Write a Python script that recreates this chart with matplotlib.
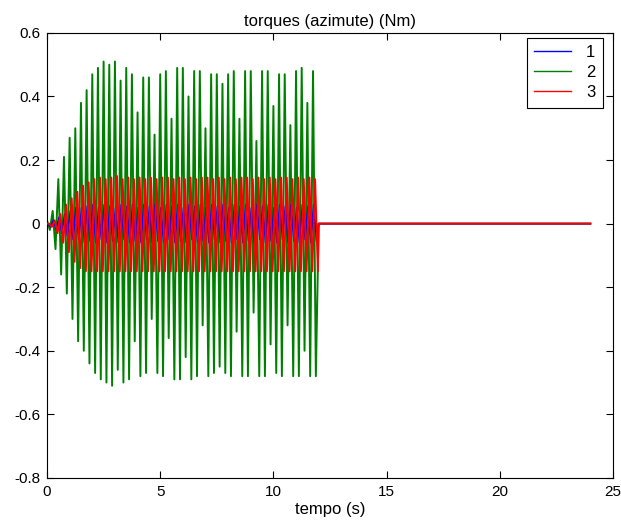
import numpy as np
import matplotlib
matplotlib.use("Agg")
import matplotlib.pyplot as plt

plt.rcParams['font.family'] = ['Liberation Sans', 'DejaVu Sans']
plt.rcParams['axes.unicode_minus'] = False

## Peak values, one cycle every 0.25 s from t = 0 to 12 s
period = 0.25
green_hi = [0.01, 0.04, 0.14, 0.21, 0.27, 0.30, 0.38, 0.42, 0.47, 0.49,
            0.51, 0.50, 0.51, 0.45, 0.49, 0.47, 0.35, 0.46, 0.46, 0.28,
            0.47, 0.48, 0.33, 0.49, 0.49, 0.40, 0.48, 0.48, 0.30, 0.47,
            0.47, 0.44, 0.47, 0.48, 0.33, 0.48, 0.48, 0.26, 0.48, 0.48,
            0.37, 0.47, 0.47, 0.31, 0.48, 0.49, 0.38, 0.48]
green_lo = [-0.02, -0.08, -0.16, -0.22, -0.30, -0.37, -0.40, -0.44, -0.47, -0.49,
            -0.50, -0.51, -0.46, -0.50, -0.49, -0.37, -0.48, -0.47, -0.30, -0.47,
            -0.48, -0.36, -0.49, -0.49, -0.42, -0.49, -0.48, -0.32, -0.48, -0.47,
            -0.45, -0.47, -0.48, -0.34, -0.48, -0.48, -0.28, -0.48, -0.48, -0.38,
            -0.47, -0.48, -0.32, -0.48, -0.48, -0.40, -0.48, -0.48]
red_hi = [0.00, 0.01, 0.03, 0.06, 0.08, 0.10, 0.12, 0.13, 0.14, 0.145,
          0.14, 0.145, 0.15, 0.14, 0.145, 0.14, 0.145, 0.14, 0.145, 0.14,
          0.145, 0.145, 0.14, 0.145, 0.14, 0.145, 0.14, 0.145, 0.145, 0.14,
          0.145, 0.14, 0.145, 0.14, 0.145, 0.145, 0.14, 0.145, 0.14, 0.145,
          0.14, 0.145, 0.145, 0.14, 0.145, 0.14, 0.145, 0.14]
red_lo = [-0.01, -0.03, -0.06, -0.09, -0.12, -0.14, -0.15, -0.15, -0.15, -0.15,
          -0.15, -0.15, -0.15, -0.15, -0.15, -0.15, -0.15, -0.15, -0.15, -0.15,
          -0.15, -0.15, -0.15, -0.15, -0.15, -0.15, -0.15, -0.15, -0.15, -0.15,
          -0.15, -0.15, -0.15, -0.15, -0.15, -0.15, -0.15, -0.15, -0.15, -0.15,
          -0.15, -0.15, -0.15, -0.15, -0.15, -0.15, -0.15, -0.15]
blue_hi = [0.00, 0.01, 0.02, 0.03, 0.04, 0.05, 0.05, 0.055, 0.06, 0.05,
           0.06, 0.055, 0.05, 0.06, 0.055, 0.06, 0.05, 0.06, 0.055, 0.06,
           0.05, 0.06, 0.055, 0.06, 0.05, 0.06, 0.055, 0.06, 0.05, 0.06,
           0.055, 0.06, 0.05, 0.06, 0.055, 0.06, 0.05, 0.06, 0.055, 0.06,
           0.05, 0.06, 0.055, 0.06, 0.05, 0.06, 0.055, 0.06]
blue_lo = [-0.01, -0.02, -0.03, -0.04, -0.05, -0.05, -0.06, -0.055, -0.06, -0.05,
           -0.06, -0.055, -0.06, -0.05, -0.06, -0.055, -0.06, -0.05, -0.06, -0.055,
           -0.06, -0.05, -0.06, -0.055, -0.06, -0.05, -0.06, -0.055, -0.06, -0.05,
           -0.06, -0.055, -0.06, -0.05, -0.06, -0.055, -0.06, -0.05, -0.06, -0.055,
           -0.06, -0.05, -0.06, -0.055, -0.06, -0.05, -0.06, -0.055]
## after the run everything sits at zero
tail_t = [12.0, 24.0]
tail_v = [0.0, 0.0]


def build(hi, lo, shift):
    t_hi = np.arange(len(hi)) * period + shift
    t_lo = t_hi + period / 2
    t = np.empty(2 * len(hi))
    v = np.empty(2 * len(hi))
    t[0::2], t[1::2] = t_hi, t_lo
    v[0::2], v[1::2] = hi, lo
    return np.concatenate([[0.0], t, tail_t]), np.concatenate([[0.0], v, tail_v])


fig = plt.figure(figsize=(6.21, 5.31), dpi=100)
ax = fig.add_axes([0.0757, 0.100, 0.9114, 0.838])

tb, vb = build(blue_hi, blue_lo, 0.03)
tg, vg = build(green_hi, green_lo, 0.0)
tr, vr = build(red_hi, red_lo, 0.09)
ax.plot(tg, vg, color='#008000', lw=1.4, label='2', zorder=2)
ax.plot(tb, vb, color='#0000ff', lw=1.2, label='1', zorder=2.5)
ax.plot(tr, vr, color='#ff0000', lw=1.4, label='3', zorder=3)

ax.set_xlim(0, 25)
ax.set_ylim(-0.8, 0.6)
ax.set_xticks([0, 5, 10, 15, 20, 25])
ax.set_yticks(np.arange(-0.8, 0.61, 0.2))
ax.set_yticklabels(['-0.8', '-0.6', '-0.4', '-0.2', '0', '0.2', '0.4', '0.6'])
ax.tick_params(direction='in', top=True, right=True, length=5, labelsize=11, pad=5)
ax.set_xlabel('tempo (s)', fontsize=12, labelpad=2)
ax.set_title('torques (azimute) (Nm)', fontsize=12, pad=5)

handles, labels = ax.get_legend_handles_labels()
order = [1, 0, 2]
leg = ax.legend([handles[i] for i in order], [labels[i] for i in order],
                loc='upper right', bbox_to_anchor=(0.982, 0.989), fontsize=12,
                handlelength=2.2, handletextpad=0.9, borderpad=0.45,
                fancybox=False, edgecolor='black', framealpha=1,
                borderaxespad=0, labelspacing=0.3)
leg.get_frame().set_linewidth(0.8)
for line in leg.get_lines():
    line.set_linewidth(1.0)

fig.savefig('out.png', dpi=100)
